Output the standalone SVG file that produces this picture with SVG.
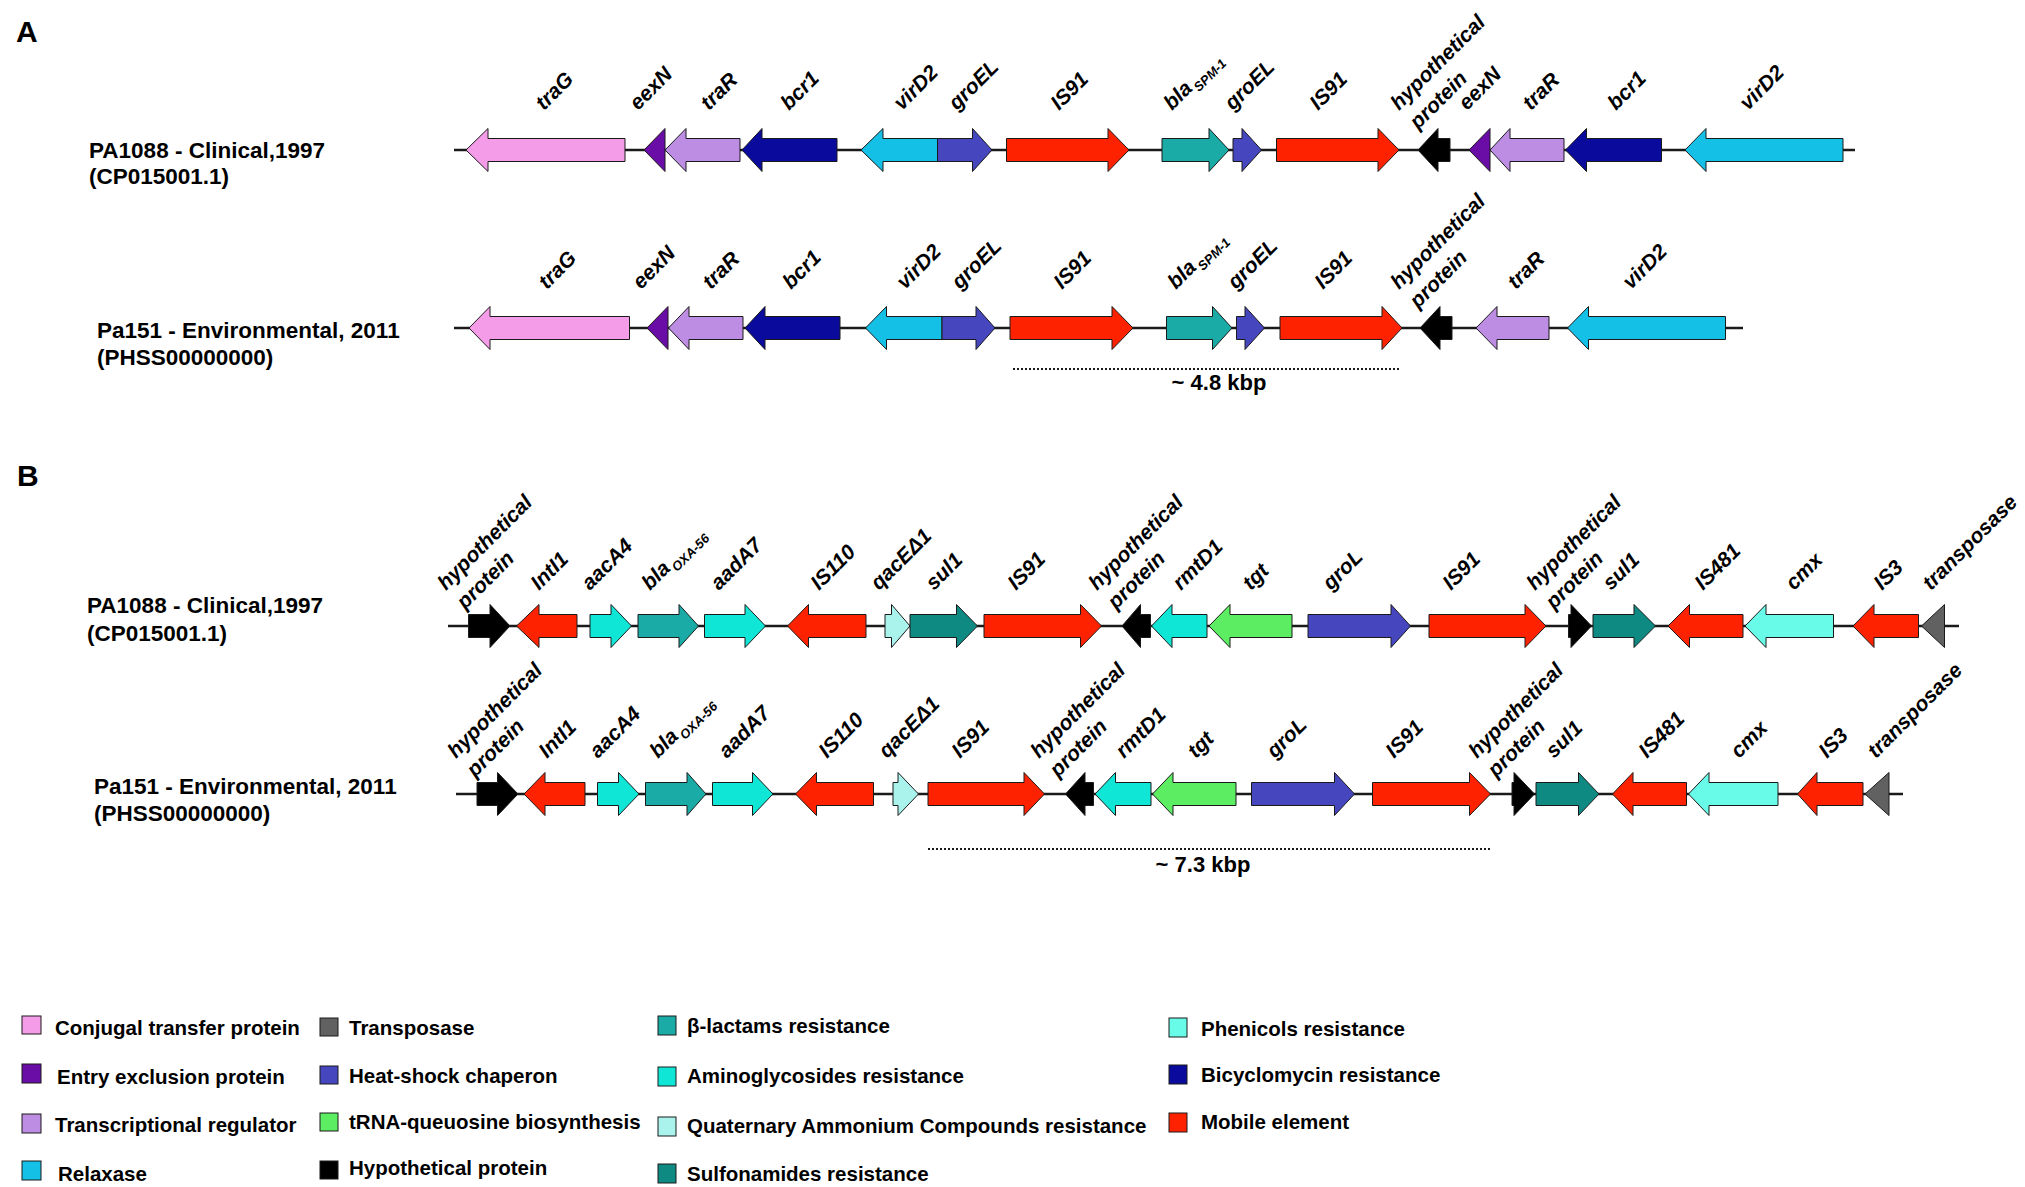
<svg xmlns="http://www.w3.org/2000/svg" width="2025" height="1187" viewBox="0 0 2025 1187">
<style>
text{font-family:"Liberation Sans",Arial,sans-serif;font-weight:bold;fill:#000}
.lbl{font-style:italic;font-size:21px}
.sub{font-size:13px}
.row{font-size:22.5px}
.leg{font-size:20.5px}
.panel{font-size:30px}
.kb{font-size:22px}
polygon,rect.sw{stroke:#1a1a1a;stroke-width:1}
.bb{stroke:#1a1a1a;stroke-width:2.5;fill:none}
.dot{stroke:#1a1a1a;stroke-width:2;stroke-dasharray:2 2;fill:none}
.pink{fill:#f59ce8}.purple{fill:#6a0ca6}.lav{fill:#bd8ce3}.relax{fill:#14c0e6}
.transp{fill:#616161}.heat{fill:#4646bf}.trna{fill:#5ced62}.hyp{fill:#000}
.blac{fill:#1aaba6}.amino{fill:#10e6d6}.quat{fill:#aaf3ec}.sulf{fill:#0f8a82}
.phen{fill:#68fbe8}.bicy{fill:#0a0a9c}.mob{fill:#ff2200}
</style>
<rect x="0" y="0" width="2025" height="1187" fill="#fff"/>

<text class="panel" x="16" y="42">A</text>
<text class="panel" x="17" y="486">B</text>

<g id="row-labels">
<text class="row" x="89" y="158">PA1088 - Clinical,1997</text>
<text class="row" x="89" y="184">(CP015001.1)</text>
<text class="row" x="97" y="338">Pa151 - Environmental, 2011</text>
<text class="row" x="97" y="365">(PHSS00000000)</text>
<text class="row" x="87" y="613">PA1088 - Clinical,1997</text>
<text class="row" x="87" y="641">(CP015001.1)</text>
<text class="row" x="94" y="794">Pa151 - Environmental, 2011</text>
<text class="row" x="94" y="821">(PHSS00000000)</text>
</g>

<g id="connectors">
<line class="bb" x1="454" y1="150" x2="1855" y2="150"/>
<line class="bb" x1="454" y1="328" x2="1743" y2="328"/>
<line class="bb" x1="448" y1="626" x2="1959" y2="626"/>
<line class="bb" x1="456" y1="794" x2="1903" y2="794"/>
<line class="dot" x1="1013" y1="369" x2="1401" y2="369"/>
<line class="dot" x1="928" y1="849" x2="1491" y2="849"/>
</g>
<text class="kb" x="1219" y="390" text-anchor="middle">~ 4.8 kbp</text>
<text class="kb" x="1203" y="872" text-anchor="middle">~ 7.3 kbp</text>

<!-- Panel A row 1 -->
<g id="a1-traG"><polygon class="pink" points="466,150 488,128.5 488,138.5 625,138.5 625,161.5 488,161.5 488,171.5"/><text class="lbl" transform="translate(544,111) rotate(-45)">traG</text></g>
<g id="a1-eexN"><polygon class="purple" points="644,150 665,128.5 665,171.5"/><text class="lbl" transform="translate(638,111) rotate(-45)">eexN</text></g>
<g id="a1-traR"><polygon class="lav" points="665,150 686,128.5 686,138.5 740,138.5 740,161.5 686,161.5 686,171.5"/><text class="lbl" transform="translate(709,111) rotate(-45)">traR</text></g>
<g id="a1-bcr1"><polygon class="bicy" points="742,150 762,128.5 762,138.5 837,138.5 837,161.5 762,161.5 762,171.5"/><text class="lbl" transform="translate(789,111) rotate(-45)">bcr1</text></g>
<g id="a1-virD2"><polygon class="relax" points="861,150 883,128.5 883,138.5 937.5,138.5 937.5,161.5 883,161.5 883,171.5"/><text class="lbl" transform="translate(902,111) rotate(-45)">virD2</text></g>
<g id="a1-groEL1"><polygon class="heat" points="937.5,138.5 972.5,138.5 972.5,128.5 992,150 972.5,171.5 972.5,161.5 937.5,161.5"/><text class="lbl" transform="translate(957,111) rotate(-45)">groEL</text></g>
<g id="a1-IS91a"><polygon class="mob" points="1006.5,138.5 1108,138.5 1108,128.5 1129,150 1108,171.5 1108,161.5 1006.5,161.5"/><text class="lbl" transform="translate(1059,111) rotate(-45)">IS91</text></g>
<g id="a1-bla"><polygon class="blac" points="1162,138.5 1209,138.5 1209,128.5 1229,150 1209,171.5 1209,161.5 1162,161.5"/><text class="lbl" transform="translate(1172,111) rotate(-45)">bla<tspan class="sub" dx="2" dy="6">SPM-1</tspan></text></g>
<g id="a1-groEL2"><polygon class="heat" points="1233,138.5 1242,138.5 1242,128.5 1261.5,150 1242,171.5 1242,161.5 1233,161.5"/><text class="lbl" transform="translate(1233,111) rotate(-45)">groEL</text></g>
<g id="a1-IS91b"><polygon class="mob" points="1276.5,138.5 1378,138.5 1378,128.5 1399,150 1378,171.5 1378,161.5 1276.5,161.5"/><text class="lbl" transform="translate(1318,111) rotate(-45)">IS91</text></g>
<g id="a1-hyp"><polygon class="hyp" points="1418,150 1438,128.5 1438,138.5 1450,138.5 1450,161.5 1438,161.5 1438,171.5"/><text class="lbl" transform="translate(1399,111) rotate(-45)"><tspan x="0" y="0">hypothetical</tspan><tspan x="0" y="27">protein</tspan></text></g>
<g id="a1-eexN2"><polygon class="purple" points="1469,150 1490,128.5 1490,171.5"/><text class="lbl" transform="translate(1467,111) rotate(-45)">eexN</text></g>
<g id="a1-traR2"><polygon class="lav" points="1490,150 1510,128.5 1510,138.5 1564,138.5 1564,161.5 1510,161.5 1510,171.5"/><text class="lbl" transform="translate(1531,111) rotate(-45)">traR</text></g>
<g id="a1-bcr1b"><polygon class="bicy" points="1565.5,150 1586.5,128.5 1586.5,138.5 1661.5,138.5 1661.5,161.5 1586.5,161.5 1586.5,171.5"/><text class="lbl" transform="translate(1616,111) rotate(-45)">bcr1</text></g>
<g id="a1-virD2b"><polygon class="relax" points="1685,150 1706,128.5 1706,138.5 1843,138.5 1843,161.5 1706,161.5 1706,171.5"/><text class="lbl" transform="translate(1748,111) rotate(-45)">virD2</text></g>

<!-- Panel A row 2 -->
<g id="a2-traG"><polygon class="pink" points="469,328 490,306.5 490,316.5 629.5,316.5 629.5,339.5 490,339.5 490,349.5"/><text class="lbl" transform="translate(547,290) rotate(-45)">traG</text></g>
<g id="a2-eexN"><polygon class="purple" points="647,328 668,306.5 668,349.5"/><text class="lbl" transform="translate(641,290) rotate(-45)">eexN</text></g>
<g id="a2-traR"><polygon class="lav" points="668.5,328 689,306.5 689,316.5 743,316.5 743,339.5 689,339.5 689,349.5"/><text class="lbl" transform="translate(711,290) rotate(-45)">traR</text></g>
<g id="a2-bcr1"><polygon class="bicy" points="745,328 765,306.5 765,316.5 840,316.5 840,339.5 765,339.5 765,349.5"/><text class="lbl" transform="translate(791,290) rotate(-45)">bcr1</text></g>
<g id="a2-virD2"><polygon class="relax" points="865.5,328 886.5,306.5 886.5,316.5 942,316.5 942,339.5 886.5,339.5 886.5,349.5"/><text class="lbl" transform="translate(905,290) rotate(-45)">virD2</text></g>
<g id="a2-groEL1"><polygon class="heat" points="942,316.5 976,316.5 976,306.5 995,328 976,349.5 976,339.5 942,339.5"/><text class="lbl" transform="translate(960,290) rotate(-45)">groEL</text></g>
<g id="a2-IS91a"><polygon class="mob" points="1010,316.5 1112,316.5 1112,306.5 1133,328 1112,349.5 1112,339.5 1010,339.5"/><text class="lbl" transform="translate(1062,290) rotate(-45)">IS91</text></g>
<g id="a2-bla"><polygon class="blac" points="1166.5,316.5 1212.5,316.5 1212.5,306.5 1232,328 1212.5,349.5 1212.5,339.5 1166.5,339.5"/><text class="lbl" transform="translate(1176,290) rotate(-45)">bla<tspan class="sub" dx="2" dy="6">SPM-1</tspan></text></g>
<g id="a2-groEL2"><polygon class="heat" points="1236.5,316.5 1245,316.5 1245,306.5 1264.5,328 1245,349.5 1245,339.5 1236.5,339.5"/><text class="lbl" transform="translate(1236,290) rotate(-45)">groEL</text></g>
<g id="a2-IS91b"><polygon class="mob" points="1280,316.5 1382,316.5 1382,306.5 1402,328 1382,349.5 1382,339.5 1280,339.5"/><text class="lbl" transform="translate(1323,290) rotate(-45)">IS91</text></g>
<g id="a2-hyp"><polygon class="hyp" points="1420,328 1440,306.5 1440,316.5 1452,316.5 1452,339.5 1440,339.5 1440,349.5"/><text class="lbl" transform="translate(1399,290) rotate(-45)"><tspan x="0" y="0">hypothetical</tspan><tspan x="0" y="27">protein</tspan></text></g>
<g id="a2-traR2"><polygon class="lav" points="1476,328 1497,306.5 1497,316.5 1549,316.5 1549,339.5 1497,339.5 1497,349.5"/><text class="lbl" transform="translate(1516,290) rotate(-45)">traR</text></g>
<g id="a2-virD2b"><polygon class="relax" points="1567.5,328 1588.5,306.5 1588.5,316.5 1725.5,316.5 1725.5,339.5 1588.5,339.5 1588.5,349.5"/><text class="lbl" transform="translate(1631,290) rotate(-45)">virD2</text></g>

<!-- Panel B row 1 -->
<g id="b1-hyp1"><polygon class="hyp" points="468.5,614.5 490,614.5 490,604.5 510,626 490,647.5 490,637.5 468.5,637.5"/><text class="lbl" transform="translate(446,591) rotate(-45)"><tspan x="0" y="0">hypothetical</tspan><tspan x="0" y="27">protein</tspan></text></g>
<g id="b1-IntI1"><polygon class="mob" points="516.5,626 539,604.5 539,614.5 577,614.5 577,637.5 539,637.5 539,647.5"/><text class="lbl" transform="translate(539,591) rotate(-45)">IntI1</text></g>
<g id="b1-aacA4"><polygon class="amino" points="590,614.5 611,614.5 611,604.5 631.5,626 611,647.5 611,637.5 590,637.5"/><text class="lbl" transform="translate(590,591) rotate(-45)">aacA4</text></g>
<g id="b1-bla"><polygon class="blac" points="638,614.5 679,614.5 679,604.5 698.5,626 679,647.5 679,637.5 638,637.5"/><text class="lbl" transform="translate(650,591) rotate(-45)">bla<tspan class="sub" dx="2" dy="6">OXA-56</tspan></text></g>
<g id="b1-aadA7"><polygon class="amino" points="704.5,614.5 745,614.5 745,604.5 765.5,626 745,647.5 745,637.5 704.5,637.5"/><text class="lbl" transform="translate(719,591) rotate(-45)">aadA7</text></g>
<g id="b1-IS110"><polygon class="mob" points="787.5,626 808.5,604.5 808.5,614.5 866,614.5 866,637.5 808.5,637.5 808.5,647.5"/><text class="lbl" transform="translate(819,591) rotate(-45)">IS110</text></g>
<g id="b1-qacE"><polygon class="quat" points="885,614.5 891.5,614.5 891.5,604.5 910,626 891.5,647.5 891.5,637.5 885,637.5"/><text class="lbl" transform="translate(879,591) rotate(-45)">qacEΔ1</text></g>
<g id="b1-sul1a"><polygon class="sulf" points="910,614.5 956.5,614.5 956.5,604.5 977.5,626 956.5,647.5 956.5,637.5 910,637.5"/><text class="lbl" transform="translate(934,591) rotate(-45)">sul1</text></g>
<g id="b1-IS91a"><polygon class="mob" points="984,614.5 1080.5,614.5 1080.5,604.5 1101.5,626 1080.5,647.5 1080.5,637.5 984,637.5"/><text class="lbl" transform="translate(1016,591) rotate(-45)">IS91</text></g>
<g id="b1-hyp2"><polygon class="hyp" points="1122,626 1140.5,604.5 1140.5,614.5 1150.5,614.5 1150.5,637.5 1140.5,637.5 1140.5,647.5"/><text class="lbl" transform="translate(1097,591) rotate(-45)"><tspan x="0" y="0">hypothetical</tspan><tspan x="0" y="27">protein</tspan></text></g>
<g id="b1-rmtD1"><polygon class="amino" points="1151.5,626 1172,604.5 1172,614.5 1207,614.5 1207,637.5 1172,637.5 1172,647.5"/><text class="lbl" transform="translate(1181,591) rotate(-45)">rmtD1</text></g>
<g id="b1-tgt"><polygon class="trna" points="1209,626 1230,604.5 1230,614.5 1292,614.5 1292,637.5 1230,637.5 1230,647.5"/><text class="lbl" transform="translate(1251,591) rotate(-45)">tgt</text></g>
<g id="b1-groL"><polygon class="heat" points="1308,614.5 1391,614.5 1391,604.5 1410.5,626 1391,647.5 1391,637.5 1308,637.5"/><text class="lbl" transform="translate(1331,591) rotate(-45)">groL</text></g>
<g id="b1-IS91b"><polygon class="mob" points="1429,614.5 1525,614.5 1525,604.5 1546,626 1525,647.5 1525,637.5 1429,637.5"/><text class="lbl" transform="translate(1451,591) rotate(-45)">IS91</text></g>
<g id="b1-hyp3"><polygon class="hyp" points="1568.5,614.5 1571,614.5 1571,604.5 1591.5,626 1571,647.5 1571,637.5 1568.5,637.5"/><text class="lbl" transform="translate(1535,591) rotate(-45)"><tspan x="0" y="0">hypothetical</tspan><tspan x="0" y="27">protein</tspan></text></g>
<g id="b1-sul1b"><polygon class="sulf" points="1593,614.5 1634,614.5 1634,604.5 1655.5,626 1634,647.5 1634,637.5 1593,637.5"/><text class="lbl" transform="translate(1611,591) rotate(-45)">sul1</text></g>
<g id="b1-IS481"><polygon class="mob" points="1668,626 1689.5,604.5 1689.5,614.5 1743,614.5 1743,637.5 1689.5,637.5 1689.5,647.5"/><text class="lbl" transform="translate(1703,591) rotate(-45)">IS481</text></g>
<g id="b1-cmx"><polygon class="phen" points="1745,626 1766,604.5 1766,614.5 1833.5,614.5 1833.5,637.5 1766,637.5 1766,647.5"/><text class="lbl" transform="translate(1794,591) rotate(-45)">cmx</text></g>
<g id="b1-IS3"><polygon class="mob" points="1853,626 1874,604.5 1874,614.5 1918.5,614.5 1918.5,637.5 1874,637.5 1874,647.5"/><text class="lbl" transform="translate(1882,591) rotate(-45)">IS3</text></g>
<g id="b1-transposase"><polygon class="transp" points="1921.5,626 1944.5,604.5 1944.5,647.5"/><text class="lbl" transform="translate(1931,591) rotate(-45)">transposase</text></g>

<!-- Panel B row 2 -->
<g id="b2-hyp1"><polygon class="hyp" points="477,782.5 497.5,782.5 497.5,772.5 518,794 497.5,815.5 497.5,805.5 477,805.5"/><text class="lbl" transform="translate(456,759) rotate(-45)"><tspan x="0" y="0">hypothetical</tspan><tspan x="0" y="27">protein</tspan></text></g>
<g id="b2-IntI1"><polygon class="mob" points="524,794 545,772.5 545,782.5 585,782.5 585,805.5 545,805.5 545,815.5"/><text class="lbl" transform="translate(547,759) rotate(-45)">IntI1</text></g>
<g id="b2-aacA4"><polygon class="amino" points="597.5,782.5 618.5,782.5 618.5,772.5 639,794 618.5,815.5 618.5,805.5 597.5,805.5"/><text class="lbl" transform="translate(598,759) rotate(-45)">aacA4</text></g>
<g id="b2-bla"><polygon class="blac" points="645.5,782.5 687,782.5 687,772.5 706,794 687,815.5 687,805.5 645.5,805.5"/><text class="lbl" transform="translate(658,759) rotate(-45)">bla<tspan class="sub" dx="2" dy="6">OXA-56</tspan></text></g>
<g id="b2-aadA7"><polygon class="amino" points="712.5,782.5 752.5,782.5 752.5,772.5 773,794 752.5,815.5 752.5,805.5 712.5,805.5"/><text class="lbl" transform="translate(727,759) rotate(-45)">aadA7</text></g>
<g id="b2-IS110"><polygon class="mob" points="795.5,794 816.5,772.5 816.5,782.5 873.5,782.5 873.5,805.5 816.5,805.5 816.5,815.5"/><text class="lbl" transform="translate(827,759) rotate(-45)">IS110</text></g>
<g id="b2-qacE"><polygon class="quat" points="893,782.5 898,782.5 898,772.5 918.5,794 898,815.5 898,805.5 893,805.5"/><text class="lbl" transform="translate(887,759) rotate(-45)">qacEΔ1</text></g>
<g id="b2-IS91a"><polygon class="mob" points="928,782.5 1024,782.5 1024,772.5 1044.5,794 1024,815.5 1024,805.5 928,805.5"/><text class="lbl" transform="translate(960,759) rotate(-45)">IS91</text></g>
<g id="b2-hyp2"><polygon class="hyp" points="1065.5,794 1085,772.5 1085,782.5 1093.5,782.5 1093.5,805.5 1085,805.5 1085,815.5"/><text class="lbl" transform="translate(1039,759) rotate(-45)"><tspan x="0" y="0">hypothetical</tspan><tspan x="0" y="27">protein</tspan></text></g>
<g id="b2-rmtD1"><polygon class="amino" points="1095,794 1115.5,772.5 1115.5,782.5 1151,782.5 1151,805.5 1115.5,805.5 1115.5,815.5"/><text class="lbl" transform="translate(1124,759) rotate(-45)">rmtD1</text></g>
<g id="b2-tgt"><polygon class="trna" points="1152.5,794 1173,772.5 1173,782.5 1236,782.5 1236,805.5 1173,805.5 1173,815.5"/><text class="lbl" transform="translate(1196,759) rotate(-45)">tgt</text></g>
<g id="b2-groL"><polygon class="heat" points="1251.5,782.5 1334.5,782.5 1334.5,772.5 1354.5,794 1334.5,815.5 1334.5,805.5 1251.5,805.5"/><text class="lbl" transform="translate(1275,759) rotate(-45)">groL</text></g>
<g id="b2-IS91b"><polygon class="mob" points="1372.5,782.5 1469.5,782.5 1469.5,772.5 1490.5,794 1469.5,815.5 1469.5,805.5 1372.5,805.5"/><text class="lbl" transform="translate(1394,759) rotate(-45)">IS91</text></g>
<g id="b2-hyp3"><polygon class="hyp" points="1512,782.5 1514,782.5 1514,772.5 1534.5,794 1514,815.5 1514,805.5 1512,805.5"/><text class="lbl" transform="translate(1477,759) rotate(-45)"><tspan x="0" y="0">hypothetical</tspan><tspan x="0" y="27">protein</tspan></text></g>
<g id="b2-sul1"><polygon class="sulf" points="1536,782.5 1578.5,782.5 1578.5,772.5 1599,794 1578.5,815.5 1578.5,805.5 1536,805.5"/><text class="lbl" transform="translate(1554,759) rotate(-45)">sul1</text></g>
<g id="b2-IS481"><polygon class="mob" points="1612.5,794 1633,772.5 1633,782.5 1686.5,782.5 1686.5,805.5 1633,805.5 1633,815.5"/><text class="lbl" transform="translate(1647,759) rotate(-45)">IS481</text></g>
<g id="b2-cmx"><polygon class="phen" points="1688.5,794 1709,772.5 1709,782.5 1778,782.5 1778,805.5 1709,805.5 1709,815.5"/><text class="lbl" transform="translate(1739,759) rotate(-45)">cmx</text></g>
<g id="b2-IS3"><polygon class="mob" points="1797.5,794 1817,772.5 1817,782.5 1863,782.5 1863,805.5 1817,805.5 1817,815.5"/><text class="lbl" transform="translate(1827,759) rotate(-45)">IS3</text></g>
<g id="b2-transposase"><polygon class="transp" points="1865,794 1889,772.5 1889,815.5"/><text class="lbl" transform="translate(1876,759) rotate(-45)">transposase</text></g>

<!-- Legend -->
<g id="legend">
<g id="leg-conj"><rect class="sw pink" x="22" y="1016" width="19" height="18"/><text class="leg" x="55" y="1035">Conjugal transfer protein</text></g>
<g id="leg-entry"><rect class="sw purple" x="22" y="1064" width="19" height="19"/><text class="leg" x="57" y="1084">Entry exclusion protein</text></g>
<g id="leg-trans"><rect class="sw lav" x="22" y="1114" width="19" height="19"/><text class="leg" x="55" y="1132">Transcriptional regulator</text></g>
<g id="leg-relax"><rect class="sw relax" x="22" y="1161" width="19" height="19"/><text class="leg" x="58" y="1181">Relaxase</text></g>
<g id="leg-transp"><rect class="sw transp" x="320" y="1018" width="18" height="18"/><text class="leg" x="349" y="1035">Transposase</text></g>
<g id="leg-heat"><rect class="sw heat" x="320" y="1066" width="18" height="18"/><text class="leg" x="349" y="1083">Heat-shock chaperon</text></g>
<g id="leg-trna"><rect class="sw trna" x="320" y="1113" width="18" height="18"/><text class="leg" x="349" y="1129">tRNA-queuosine biosynthesis</text></g>
<g id="leg-hyp"><rect class="sw hyp" x="320" y="1161" width="18" height="18"/><text class="leg" x="349" y="1175">Hypothetical protein</text></g>
<g id="leg-blac"><rect class="sw blac" x="658" y="1016" width="18" height="19"/><text class="leg" x="687" y="1033">β-lactams resistance</text></g>
<g id="leg-amino"><rect class="sw amino" x="658" y="1067" width="18" height="19"/><text class="leg" x="687" y="1083">Aminoglycosides resistance</text></g>
<g id="leg-quat"><rect class="sw quat" x="658" y="1117" width="18" height="19"/><text class="leg" x="687" y="1133">Quaternary Ammonium Compounds resistance</text></g>
<g id="leg-sulf"><rect class="sw sulf" x="658" y="1164" width="18" height="19"/><text class="leg" x="687" y="1181">Sulfonamides resistance</text></g>
<g id="leg-phen"><rect class="sw phen" x="1169" y="1018" width="18" height="19"/><text class="leg" x="1201" y="1036">Phenicols resistance</text></g>
<g id="leg-bicy"><rect class="sw bicy" x="1169" y="1065" width="18" height="19"/><text class="leg" x="1201" y="1082">Bicyclomycin resistance</text></g>
<g id="leg-mob"><rect class="sw mob" x="1169" y="1113" width="18" height="19"/><text class="leg" x="1201" y="1129">Mobile element</text></g>
</g>
</svg>
